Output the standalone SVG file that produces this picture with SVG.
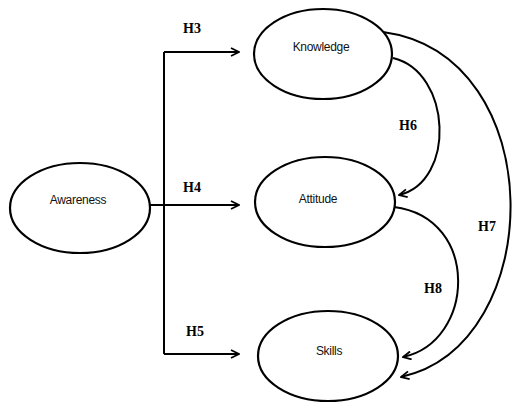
<svg xmlns="http://www.w3.org/2000/svg" width="512" height="403" viewBox="0 0 512 403">
<defs>
<marker id="arr" viewBox="0 0 10 10" refX="9" refY="5" markerWidth="10" markerHeight="10" markerUnits="userSpaceOnUse" orient="auto">
<path d="M1,1 L9,5 L1,9" fill="none" stroke="#000" stroke-width="1.8"/>
</marker>
<style>
.node ellipse{fill:#fff;stroke:#000;stroke-width:2.2}
.node text{font-family:"Liberation Sans",Arial,sans-serif;font-size:12px;text-anchor:middle;fill:#111;letter-spacing:-0.3px}
.lbl{font-family:"Liberation Serif","Times New Roman",serif;font-weight:bold;font-size:14px;fill:#000;text-anchor:middle}
.conn path{fill:none;stroke:#000;stroke-width:2}
</style>
</defs>
<rect width="512" height="403" fill="#fff"/>
<g class="conn">
<path d="M164,52 V354"/>
<path d="M164,52 H239" marker-end="url(#arr)"/>
<path d="M149,205 H239" marker-end="url(#arr)"/>
<path d="M164,354 H239" marker-end="url(#arr)"/>
<path d="M393,58 C452,72 456,182 399,195" marker-end="url(#arr)"/>
<path d="M383,32 C552,55 548,345 401,377" marker-end="url(#arr)"/>
<path d="M394,207 C481,218 475,342 403,357" marker-end="url(#arr)"/>
</g>
<g id="awareness" class="node"><ellipse cx="80" cy="208" rx="70" ry="45"/><text x="78" y="204">Awareness</text></g>
<g id="knowledge" class="node"><ellipse cx="323" cy="54" rx="69" ry="45"/><text x="321" y="51">Knowledge</text></g>
<g id="attitude" class="node"><ellipse cx="325" cy="202" rx="70" ry="45"/><text x="318" y="203">Attitude</text></g>
<g id="skills" class="node"><ellipse cx="328" cy="356" rx="70" ry="45"/><text x="329" y="355">Skills</text></g>
<g id="labels">
<text class="lbl" x="192" y="33">H3</text>
<text class="lbl" x="192" y="192">H4</text>
<text class="lbl" x="195" y="336">H5</text>
<text class="lbl" x="408" y="130">H6</text>
<text class="lbl" x="487" y="231">H7</text>
<text class="lbl" x="433" y="293">H8</text>
</g>
</svg>
